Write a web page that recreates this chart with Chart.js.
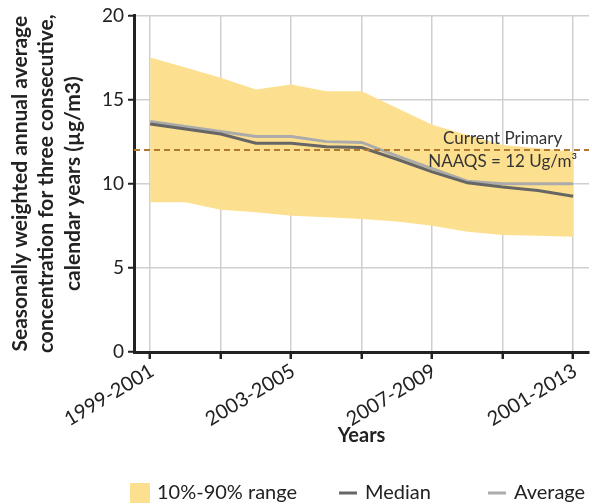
<!DOCTYPE html>
<html>
<head>
<meta charset="utf-8">
<script src="https://cdn.jsdelivr.net/npm/chart.js@4"></script>
<style>
  html, body { margin: 0; padding: 0; background: #fff; }
  #wrap { width: 592px; height: 504px; }
</style>
</head>
<body>
<div id="wrap"><canvas id="pmChart"></canvas></div>
<script>
// Периоды по три года
const periods = ['1999-2001', '2000-2002', '2001-2003', '2002-2004', '2003-2005', '2004-2006',
    '2005-2007', '2006-2008', '2007-2009', '2008-2010', '2009-2011', '2010-2012', '2001-2013'];
// 90-й и 10-й процентили
const upper90 = [17.5, 16.9, 16.3, 15.6, 15.9, 15.5, 15.5, 14.5, 13.5, 12.9, 12.3, 12.1, 11.9];
const lower10 = [8.9, 8.9, 8.45, 8.3, 8.1, 8.0, 7.9, 7.75, 7.5, 7.15, 6.95, 6.9, 6.85];
const median = [13.55, 13.25, 12.95, 12.4, 12.4, 12.2, 12.15, 11.45, 10.7, 10.05, 9.8, 9.6, 9.25];
const average = [13.7, 13.4, 13.1, 12.8, 12.8, 12.5, 12.45, 11.65, 10.9, 10.15, 10.0, 10.0, 10.0];
const yTicks = [0, 5, 10, 15, 20];
const standard = 12;

const FONT = 'Lato, "Open Sans", sans-serif';
const BAND = '#fde08f';

function pts(arr) {
    return arr.map((v, i) => ({ x: i, y: v }));
}

// Линия стандарта NAAQS и подпись
const naaqsPlugin = {
    id: 'naaqs',
    afterDatasetsDraw(chart) {
        const { ctx, chartArea, scales } = chart;
        const y = scales.y.getPixelForValue(standard);
        ctx.save();
        ctx.strokeStyle = '#b27a30';
        ctx.lineWidth = 2;
        ctx.setLineDash([6, 4]);
        ctx.beginPath();
        ctx.moveTo(chartArea.left, y);
        ctx.lineTo(chartArea.right, y);
        ctx.stroke();
        ctx.setLineDash([]);

        const cx = scales.x.getPixelForValue(10);
        ctx.fillStyle = '#333';
        ctx.font = '17px ' + FONT;
        ctx.textAlign = 'center';
        ctx.textBaseline = 'middle';
        ctx.fillText('Current Primary', cx, y - 12);
        ctx.fillText('NAAQS = 12 Ug/m³', cx, y + 11);
        ctx.restore();
    }
};

// Легенда внизу
const legendPlugin = {
    id: 'bottomLegend',
    afterDraw(chart) {
        const { ctx } = chart;
        const ds = chart.data.datasets;
        const cy = 493;
        let x = 130;
        ctx.save();
        ctx.font = '20px ' + FONT;
        ctx.textBaseline = 'middle';
        ctx.textAlign = 'left';

        ctx.fillStyle = BAND;
        ctx.fillRect(x, cy - 10, 20, 20);
        x += 27;
        ctx.fillStyle = '#222';
        ctx.fillText(ds[0].label, x, cy);
        x += ctx.measureText(ds[0].label).width + 42;

        [ds[2], ds[3]].forEach((d) => {
            ctx.strokeStyle = d.borderColor;
            ctx.lineWidth = 3;
            ctx.beginPath();
            ctx.moveTo(x, cy);
            ctx.lineTo(x + 18, cy);
            ctx.stroke();
            x += 26;
            ctx.fillText(d.label, x, cy);
            x += ctx.measureText(d.label).width + 57;
        });
        ctx.restore();
    }
};

const ctx = document.getElementById('pmChart').getContext('2d');
new Chart(ctx, {
    type: 'line',
    data: {
        datasets: [{
            label: '10%-90% range',
            data: pts(upper90),
            borderWidth: 0,
            borderColor: 'rgba(0,0,0,0)',
            backgroundColor: BAND,
            fill: '+1',
            pointRadius: 0,
            order: 3
        }, {
            label: 'lower',
            data: pts(lower10),
            borderWidth: 0,
            borderColor: 'rgba(0,0,0,0)',
            backgroundColor: BAND,
            fill: false,
            pointRadius: 0,
            order: 4
        }, {
            label: 'Median',
            data: pts(median),
            borderColor: '#666666',
            backgroundColor: '#666666',
            borderWidth: 3,
            fill: false,
            pointRadius: 0,
            order: 1
        }, {
            label: 'Average',
            data: pts(average),
            borderColor: '#ababab',
            backgroundColor: '#ababab',
            borderWidth: 3,
            fill: false,
            pointRadius: 0,
            order: 2
        }]
    },
    options: {
        responsive: true,
        maintainAspectRatio: false,
        animation: false,
        layout: { padding: { top: 10, right: 3, left: 0, bottom: 56 } },
        scales: {
            x: {
                type: 'linear',
                min: -0.46,
                max: 12.45,
                afterBuildTicks: (scale) => {
                    scale.ticks = periods.map((p, i) => ({ value: i })).filter(t => t.value % 2 === 0);
                },
                afterFit: (scale) => {
                    scale.height = 96;
                    scale.paddingLeft = 0;
                    scale.paddingRight = 0;
                },
                ticks: {
                    autoSkip: false,
                    maxRotation: 31,
                    minRotation: 31,
                    padding: 0,
                    labelOffset: 2,
                    color: '#222',
                    font: { family: FONT, size: 20 },
                    callback: (v) => (v % 4 === 0 ? periods[v] : '')
                },
                grid: { color: '#cfcfcf', lineWidth: 1.5, tickColor: '#222', tickLength: 7, tickWidth: 2.5 },
                border: { color: '#222', width: 3 },
                title: {
                    display: true,
                    text: 'Years',
                    color: '#222',
                    font: { family: FONT, size: 20, weight: 'bold' },
                    padding: { top: 4, bottom: 0 }
                }
            },
            y: {
                min: 0,
                max: 20,
                afterBuildTicks: (scale) => {
                    scale.ticks = yTicks.map(v => ({ value: v }));
                },
                afterFit: (scale) => { scale.width = 134; },
                ticks: {
                    color: '#222',
                    font: { family: FONT, size: 19 },
                    padding: 4
                },
                grid: { color: '#cfcfcf', lineWidth: 1.5, tickColor: '#222', tickLength: 6, tickWidth: 2 },
                border: { color: '#222', width: 3 },
                title: {
                    display: true,
                    text: ['Seasonally weighted annual average', 'concentration for three consecutive,', 'calendar years (µg/m3)'],
                    color: '#222',
                    font: { family: FONT, size: 21, weight: 'bold', lineHeight: 1.26 },
                    padding: { top: 7, bottom: 0 }
                }
            }
        },
        plugins: {
            legend: { display: false },
            tooltip: { enabled: false }
        }
    },
    plugins: [naaqsPlugin, legendPlugin]
});
</script>
</body>
</html>
